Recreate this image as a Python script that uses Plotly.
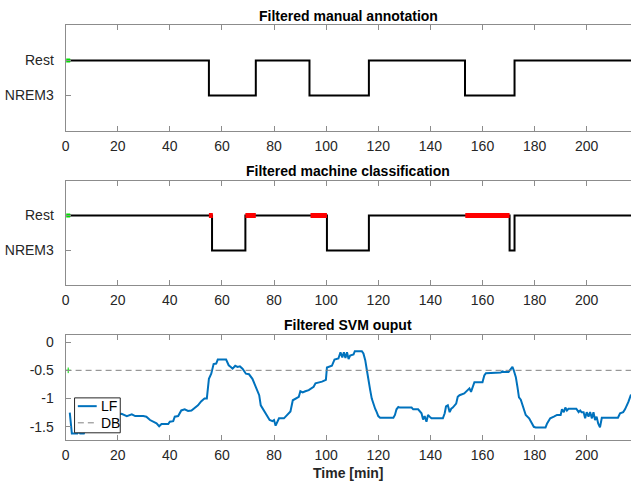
import plotly.graph_objects as go

# ---------------- data ----------------
# state coding: 1 = Rest, 0 = NREM3
manual_t = [1, 55, 73, 93.6, 116.4, 153.3, 172.3, 217]
manual_s = [1, 0, 1, 0, 1, 0, 1, 1]

machine_t = [1, 56.2, 69, 100.3, 116.4, 170.4, 172.3, 217]
machine_s = [1, 0, 1, 0, 1, 0, 1, 1]

# mismatch segments (shown in red on the Rest level)
mismatch_start = [55, 69, 94, 153.4]
mismatch_end = [56.5, 73, 100.3, 170.4]

state_vals = [0, 1]
state_labels = ["NREM3", "Rest"]

lf_t = [1.6, 2.0, 2.4, 4.5, 5.1, 5.6, 7.0, 7.5, 8.2, 10, 12, 14, 16, 18, 20, 21.5,
        23.5, 25.4, 26.7, 29.8, 31.0, 32.4, 33.7, 34.9, 35.9, 36.8, 39.4, 40.0,
        41.3, 41.9, 43.2, 44.4, 45.7, 47.0, 48.3, 49.5, 50.8, 52.0, 53.3, 54.2,
        55.0, 55.9, 56.8, 57.8, 58.4, 61.6, 62.6, 63.4, 64.1, 65.1, 66.0, 66.9,
        67.9, 69.2, 70.4, 71.7, 73.0, 74.3, 74.9, 76.2, 77.4, 78.3, 79.4, 80.0,
        80.6, 81.9, 83.8, 85.1, 86.3, 87.2, 88.3, 89.5, 90.1, 91.0, 92.0, 93.3,
        95.2, 95.9, 98.4, 99.9, 100.3, 102.2, 103.2, 104.7, 105.5, 106.2, 106.8,
        107.4, 108.0, 108.6, 109.2, 110.5, 111.0, 113.7, 114.3, 115.0, 115.6,
        116.3, 116.9, 117.5, 118.2, 118.8, 119.4, 120.0, 120.7, 125.8, 126.4,
        127.0, 127.7, 128.3, 132.8, 133.4, 135.3, 136.6, 137.2, 137.8, 138.5,
        139.1, 139.7, 140.4, 144.8, 145.5, 146.0, 146.7, 147.4, 148.0, 148.6,
        149.9, 150.5, 151.2, 153.0, 154.3, 155.0, 155.6, 156.3, 156.9, 160.0,
        160.7, 161.3, 167.0, 167.7, 168.2, 170.0, 171.0, 171.5, 172.0, 172.8,
        173.4, 174.0, 174.7, 175.3, 176.0, 176.6, 177.9, 178.5, 179.7, 180.4,
        184.2, 184.8, 185.5, 186.0, 187.4, 188.6, 190.0, 190.5, 191.2, 191.8,
        192.4, 193.0, 196.0, 196.9, 197.5, 198.0, 198.8, 199.4, 200.0, 200.7,
        201.3, 202.0, 202.6, 203.2, 203.8, 204.4, 205.1, 205.8, 212.0, 212.8,
        214.0, 214.7, 216.0, 216.6, 217.0]
lf_v = [-1.25, -1.45, -1.62, -1.62, -1.58, -1.62, -1.62, -1.56, -1.44, -1.42,
        -1.38, -1.36, -1.33, -1.30, -1.28, -1.27, -1.31, -1.28, -1.31, -1.31,
        -1.32, -1.38, -1.41, -1.44, -1.49, -1.45, -1.45, -1.41, -1.40, -1.32,
        -1.31, -1.21, -1.19, -1.22, -1.21, -1.17, -1.12, -1.05, -1.0, -1.0,
        -0.65, -0.56, -0.39, -0.38, -0.31, -0.31, -0.41, -0.44, -0.47, -0.42,
        -0.44, -0.43, -0.47, -0.56, -0.57, -0.65, -0.79, -0.94, -1.12, -1.22,
        -1.32, -1.38, -1.40, -1.38, -1.48, -1.35, -1.35, -1.29, -1.23, -1.03,
        -1.0, -0.97, -0.87, -0.89, -0.87, -0.85, -0.79, -0.73, -0.70, -0.67,
        -0.45, -0.42, -0.31, -0.29, -0.18, -0.27, -0.18, -0.28, -0.18, -0.30,
        -0.24, -0.22, -0.16, -0.16, -0.20, -0.32, -0.49, -0.65, -0.85, -1.0,
        -1.12, -1.18, -1.24, -1.31, -1.34, -1.34, -1.29, -1.19, -1.15, -1.16,
        -1.16, -1.19, -1.19, -1.26, -1.37, -1.31, -1.41, -1.29, -1.32, -1.35,
        -1.35, -1.26, -1.14, -1.12, -1.24, -1.18, -1.16, -1.09, -0.97, -0.94,
        -0.91, -0.85, -0.82, -0.88, -0.79, -0.71, -0.71, -0.59, -0.55, -0.54,
        -0.52, -0.53, -0.53, -0.47, -0.44, -0.50, -0.62, -0.79, -0.98, -1.02,
        -1.12, -1.21, -1.29, -1.35, -1.41, -1.50, -1.51, -1.51, -1.44, -1.38,
        -1.35, -1.32, -1.29, -1.29, -1.19, -1.24, -1.16, -1.21, -1.18, -1.18,
        -1.24, -1.21, -1.24, -1.24, -1.35, -1.24, -1.32, -1.24, -1.35, -1.24,
        -1.38, -1.32, -1.44, -1.51, -1.34, -1.34, -1.26, -1.24, -1.19, -1.06,
        -0.98, -0.93]

db_value = -0.5
x_range = [0, 217]
x_ticks = [0, 20, 40, 60, 80, 100, 120, 140, 160, 180, 200]
svm_ticks = [0, -0.5, -1, -1.5]
svm_labels = ["0", "-0.5", "-1", "-1.5"]

titles = ["Filtered manual annotation", "Filtered machine classification",
          "Filtered SVM ouput"]
xlabel = "Time [min]"
legend_names = ["LF", "DB"]

# ---------------- figure ----------------
W, H = 631, 483
fig = go.Figure()

BLUE = "#0072BD"
DBC = "#808080"
AXC = "#8c8c8c"
TXT = "#262626"
FONT = "Liberation Sans, Arial, sans-serif"

# panel 1
fig.add_trace(go.Scatter(x=manual_t, y=manual_s, mode="lines", line_shape="hv",
                         line=dict(color="black", width=2), showlegend=False,
                         xaxis="x", yaxis="y"))
fig.add_trace(go.Scatter(x=[manual_t[0]], y=[manual_s[0]], mode="markers",
                         marker=dict(color="#00dd00", size=4, symbol="square"),
                         showlegend=False, xaxis="x", yaxis="y"))

# panel 2
fig.add_trace(go.Scatter(x=machine_t, y=machine_s, mode="lines", line_shape="hv",
                         line=dict(color="black", width=2), showlegend=False,
                         xaxis="x2", yaxis="y2"))
rx, ry = [], []
for a, b in zip(mismatch_start, mismatch_end):
    rx += [a, b, None]
    ry += [1, 1, None]
fig.add_trace(go.Scatter(x=rx, y=ry, mode="lines",
                         line=dict(color="#ff0000", width=5), showlegend=False,
                         xaxis="x2", yaxis="y2"))
fig.add_trace(go.Scatter(x=[machine_t[0]], y=[machine_s[0]], mode="markers",
                         marker=dict(color="#00dd00", size=4, symbol="square"),
                         showlegend=False, xaxis="x2", yaxis="y2"))

# panel 3
fig.add_trace(go.Scatter(x=lf_t, y=lf_v, mode="lines", name=legend_names[0],
                         line=dict(color=BLUE, width=2), showlegend=False,
                         xaxis="x3", yaxis="y3"))
fig.add_trace(go.Scatter(x=x_range, y=[db_value, db_value], mode="lines",
                         name=legend_names[1], showlegend=False,
                         line=dict(color=DBC, width=1, dash="6px,4px"),
                         xaxis="x3", yaxis="y3"))
fig.add_trace(go.Scatter(x=[1], y=[db_value], mode="markers",
                         marker=dict(color="#00dd00", size=4, symbol="cross-thin",
                                     line=dict(color="#00dd00", width=1)),
                         showlegend=False, xaxis="x3", yaxis="y3"))

def dom(top, bottom):
    return [1 - bottom / H, 1 - top / H]

panels = [(24.3, 130), (180, 285), (335, 440)]
xdom = [62 / W, 1.0]

common_axis = dict(showline=True, linecolor=AXC, linewidth=1,
                   ticks="inside", ticklen=5, tickcolor=AXC, showgrid=False,
                   zeroline=False, tickfont=dict(family=FONT, size=14, color=TXT))

layout = dict(width=W, height=H, margin=dict(l=0, r=0, t=0, b=0),
              paper_bgcolor="white", plot_bgcolor="white",
              font=dict(family=FONT, size=14, color=TXT), showlegend=False)

for i, (top, bot) in enumerate(panels):
    sfx = "" if i == 0 else str(i + 1)
    xa = dict(common_axis, domain=xdom, range=x_range, tickvals=x_ticks,
              anchor="y" + sfx, mirror="ticks", ticklabelstandoff=2)
    if i == 2:
        ya = dict(common_axis, domain=dom(top, bot), range=[-1.735, 0.12],
                  tickvals=svm_ticks, ticktext=svm_labels, anchor="x" + sfx,
                  mirror=False, ticklabelstandoff=8)
    else:
        ya = dict(common_axis, domain=dom(top, bot), range=[-1, 2],
                  tickvals=state_vals, ticktext=state_labels, anchor="x" + sfx,
                  mirror=False, ticklabelstandoff=8)
    layout["xaxis" + sfx] = xa
    layout["yaxis" + sfx] = ya

annotations = []
title_y = [15, 170, 325]
for t, ty in zip(titles, title_y):
    annotations.append(dict(text="<b>" + t + "</b>", x=(62 + W) / 2 / W, y=1 - ty / H,
                            xref="paper", yref="paper", xanchor="center",
                            yanchor="middle", showarrow=False,
                            font=dict(family=FONT, size=14, color="black")))
annotations.append(dict(text="<b>" + xlabel + "</b>", x=(62 + W) / 2 / W,
                        y=1 - 473 / H, xref="paper", yref="paper",
                        xanchor="center", yanchor="middle", showarrow=False,
                        font=dict(family=FONT, size=14, color=TXT)))

# manual legend box (paper coordinates)
lx0, lx1, ly0, ly1 = 71, 117, 397.7, 432.7
shapes = [dict(type="rect", xref="paper", yref="paper",
               x0=lx0 / W, x1=lx1 / W, y0=1 - ly1 / H, y1=1 - ly0 / H,
               fillcolor="white", line=dict(color=TXT, width=1), layer="above")]
entry_y = [406, 422.7]
entry_style = [dict(color=BLUE, width=2), dict(color=DBC, width=1, dash="6px,4px")]
for name, ey, st in zip(legend_names, entry_y, entry_style):
    shapes.append(dict(type="line", xref="paper", yref="paper",
                       x0=74.3 / W, x1=93.3 / W, y0=1 - ey / H, y1=1 - ey / H,
                       line=st, layer="above"))
    annotations.append(dict(text=name, x=95.5 / W, y=1 - ey / H, xref="paper",
                            yref="paper", xanchor="left", yanchor="middle",
                            showarrow=False,
                            font=dict(family=FONT, size=14, color="black")))
layout["annotations"] = annotations
layout["shapes"] = shapes

fig.update_layout(**layout)
fig.write_html("out.html")
